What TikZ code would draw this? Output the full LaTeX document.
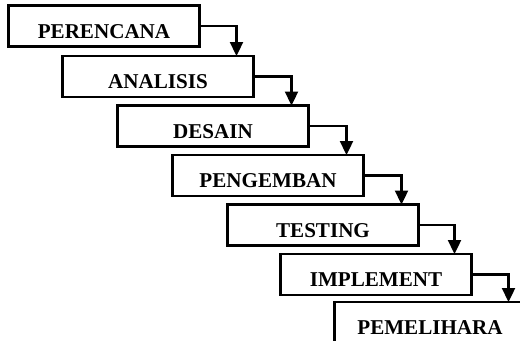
\documentclass[tikz,border=0pt]{standalone}
\usepackage{fontspec}
\setmainfont{Liberation Serif}
\usetikzlibrary{positioning,arrows.meta}

\begin{document}
\begin{tikzpicture}[
			flow/.style={
				-{Triangle[length=0.28cm,width=0.26cm]},
				line width=1.3pt
			},
			every node/.style={
				draw,
				line width=1.3pt,
				outer sep=0pt,
				minimum width=3.82cm,
				minimum height=0.82cm,
				inner sep=0pt,
				text height=0.48cm,
				text depth=0cm,
				align=center,
				font=\bfseries\fontsize{12}{14}\selectfont
			}
			]
			
			\useasboundingbox (0,0) rectangle (10.4,-6.8);
			
			%%%%%%%%%%%%%%%%%%%%%%%%%%%%%%%%%%%%%%%%%%%%%%%%%%%%%%
			% Nodes
			%%%%%%%%%%%%%%%%%%%%%%%%%%%%%%%%%%%%%%%%%%%%%%%%%%%%%%
			
			\node (perencana) at (2.08,-0.52) {PERENCANA};
			
			\node (analisis) [below right=0.19cm and 1.08cm of perencana.south west]
			{ANALISIS};
			
			\node (desain) [below right=0.17cm and 1.1cm of analisis.south west]
			{DESAIN};
			
			\node (pengemban) [below right=0.17cm and 1.1cm of desain.south west]
			{PENGEMBAN};
			
			\node (testing) [below right=0.17cm and 1.1cm of pengemban.south west]
			{TESTING};
			
			\node (implement) [below right=0.17cm and 1.06cm of testing.south west]
			{IMPLEMENT};
			
			\node (pemelihara) [below right=0.14cm and 1.08cm of implement.south west]
			{PEMELIHARA};
			
			%%%%%%%%%%%%%%%%%%%%%%%%%%%%%%%%%%%%%%%%%%%%%%%%%%%%%%
			% Flow
			%%%%%%%%%%%%%%%%%%%%%%%%%%%%%%%%%%%%%%%%%%%%%%%%%%%%%%
			
			\draw[flow]
			(perencana.east) -| ([xshift=-0.34cm]analisis.north east);
			
			\draw[flow]
			(analisis.east) -| ([xshift=-0.34cm]desain.north east);
			
			\draw[flow]
			(desain.east) -| ([xshift=-0.34cm]pengemban.north east);
			
			\draw[flow]
			(pengemban.east) -| ([xshift=-0.34cm]testing.north east);
			
			\draw[flow]
			(testing.east) -| ([xshift=-0.34cm]implement.north east);
			
			\draw[flow]
			(implement.east) -| ([xshift=-0.34cm]pemelihara.north east);
			
			%%%%%%%%%%%%%%%%%%%%%%%%%%%%%%%%%%%%%%%%%%%%%%%%%%%%%%
			
		\end{tikzpicture}
\end{document}
